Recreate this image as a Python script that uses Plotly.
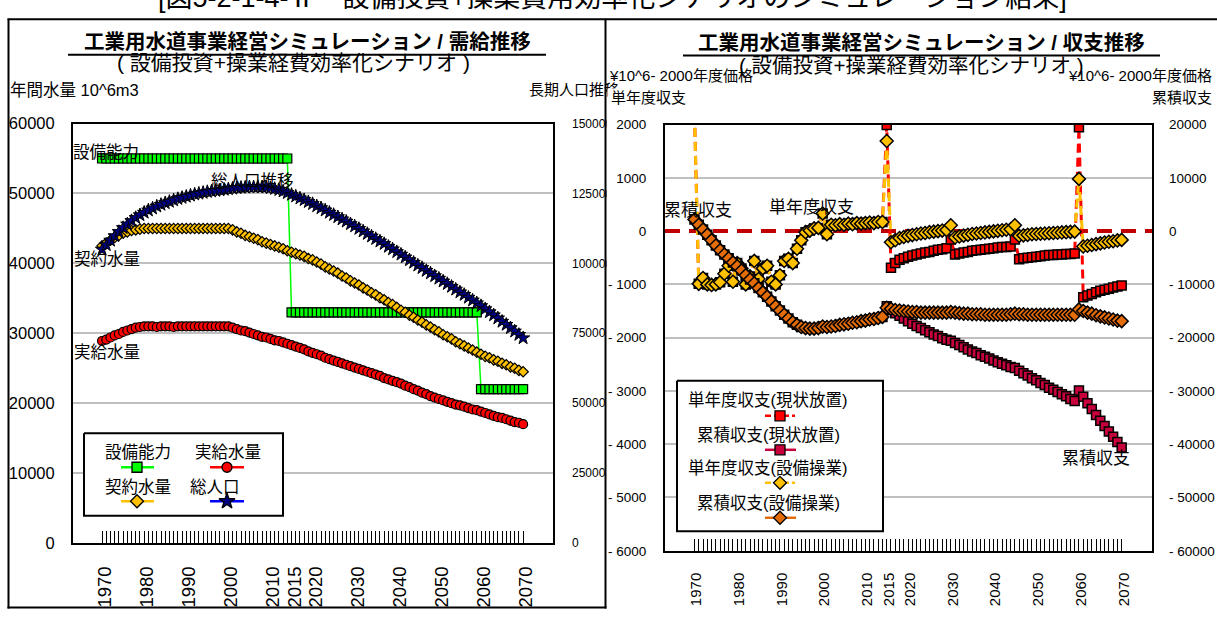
import plotly.graph_objects as go

W, H = 1217, 619
FONT = "Liberation Sans, Arial, Noto Sans CJK JP, sans-serif"


def px(x):
    return x / W


def py(y):
    return 1 - y / H


# ---------------------------------------------------------------- data
years = list(range(1970, 2071))
labelled_years = [1970, 1980, 1990, 2000, 2010, 2015, 2020, 2030, 2040, 2050, 2060, 2070]

# 需給推移 (10^6 m3 / 千人)
capacity = [55000] * 45 + [33000] * 45 + [22000] * 11
supply = [
    28900, 29100, 29400, 29700, 29900, 30200, 30400, 30600, 30800, 30900,
    31000, 31000, 31000, 30900, 31000, 31000, 31000, 30900, 31000, 31000,
    31000, 31000, 31000, 31000, 31000, 31000, 31000, 31000, 31000, 31000,
    31000, 30800, 30600, 30400, 30300, 30100, 29900, 29700, 29500, 29400,
    29200, 29000, 28900, 28700, 28500, 28300, 28100, 27900, 27700, 27400,
    27200, 27000, 26800, 26500, 26300, 26100, 25900, 25700, 25500, 25300,
    25100, 24900, 24700, 24500, 24300, 24100, 23900, 23600, 23400, 23200,
    23000, 22800, 22500, 22300, 22000, 21800, 21500, 21300, 21000, 20800,
    20600, 20400, 20200, 20000, 19800, 19700, 19500, 19300, 19100, 19000,
    18800, 18600, 18400, 18200, 18000, 17900, 17700, 17500, 17300, 17200,
    17000,
]
contract = [
    42500, 42900, 43300, 43700, 44000, 44300, 44500, 44700, 44800, 44900,
    45000, 45000, 45000, 45000, 45000, 45000, 45000, 45000, 45000, 45000,
    45000, 45000, 45000, 45000, 45000, 45000, 45000, 45000, 45000, 45000,
    45000, 44800, 44500, 44300, 44000, 43800, 43600, 43400, 43100, 42900,
    42700, 42500, 42300, 42100, 41800, 41600, 41400, 41200, 41000, 40700,
    40500, 40200, 39900, 39500, 39200, 38900, 38600, 38200, 37900, 37500,
    37200, 36900, 36500, 36200, 35800, 35500, 35100, 34800, 34400, 34100,
    33700, 33300, 33000, 32600, 32300, 31900, 31600, 31200, 30900, 30500,
    30200, 29800, 29500, 29200, 28800, 28500, 28200, 27900, 27600, 27300,
    27000, 26700, 26500, 26200, 26000, 25700, 25500, 25200, 25000, 24700,
    24500,
]
population = [
    105000, 106600, 108200, 109800, 111300, 112700, 114000, 115200, 116300, 117300,
    118200, 119000, 119700, 120400, 121000, 121600, 122100, 122600, 123100, 123500,
    123900, 124300, 124700, 125000, 125300, 125600, 125800, 126000, 126200, 126400,
    126600, 126800, 127000, 127100, 127200, 127300, 127300, 127400, 127300, 127200,
    127000, 126700, 126300, 125800, 125200, 124600, 124000, 123300, 122700, 122000,
    121300, 120500, 119800, 119000, 118200, 117400, 116600, 115800, 115000, 114100,
    113300, 112400, 111500, 110600, 109700, 108800, 107900, 107000, 106000, 105100,
    104100, 103200, 102200, 101200, 100300, 99300, 98400, 97400, 96500, 95500,
    94600, 93600, 92700, 91700, 90700, 89700, 88800, 87800, 86800, 85800,
    84800, 83700, 82600, 81500, 80400, 79200, 78100, 76900, 75700, 74500,
    73300,
]

# 収支推移 (百万円, 2000年度価格) -- 1970-2014 common to both scenarios
annual_common = [
    2200, -990, -880, -1000, -1010, -1000, -960, -800, -650, -950,
    -600, -700, -1000, -850, -560, -900, -700, -650, -950, -1000,
    -830, -560, -520, -600, -330, -170, -20, 10, 50, 60,
    330, -60, 120, 110, 130, 120, 140, 130, 150, 140,
    150, 160, 150, 170, 170,
]
annual_status_quo_tail = [
    1990, -690, -600, -540, -510, -480, -460, -440, -420, -400,
    -390, -370, -350, -340, -320, -160, -440, -420, -400, -390,
    -370, -360, -350, -340, -330, -320, -310, -300, -300, -290,
    -160, -530, -510, -500, -490, -480, -470, -460, -450, -450,
    -440, -440, -430, -430, -420, 1950, -1240, -1210, -1180, -1150,
    -1120, -1100, -1080, -1060, -1040, -1020,
]
annual_invest_tail = [
    1690, -210, -170, -130, -110, -90, -75, -60, -45, -35,
    -20, -10, 0, 10, 20, 110, -120, -100, -85, -70,
    -55, -45, -35, -25, -15, -5, 5, 15, 25, 35,
    110, -90, -80, -70, -60, -55, -50, -45, -40, -35,
    -30, -25, -20, -15, -10, 980, -290, -275, -260, -245,
    -230, -215, -200, -190, -175, -165,
]
cumul_common = [
    2200, 1200, 300, -700, -1700, -2700, -3600, -4400, -5100, -5900,
    -6600, -7400, -8300, -9100, -9800, -10700, -11500, -12300, -13200, -14100,
    -14900, -15700, -16400, -17100, -17600, -18000, -18200, -18300, -18300, -18200,
    -17900, -18000, -17900, -17800, -17600, -17500, -17400, -17200, -17100, -16900,
    -16800, -16600, -16500, -16300, -16100,
]
cumul_status_quo_tail = [
    -14100, -14800, -15400, -15900, -16400, -16900, -17400, -17800, -18200, -18600,
    -19000, -19400, -19700, -20100, -20400, -20600, -21000, -21400, -21800, -22200,
    -22600, -22900, -23300, -23600, -23900, -24300, -24600, -24900, -25200, -25500,
    -25700, -26200, -26700, -27100, -27600, -28000, -28500, -28900, -29400, -29800,
    -30200, -30600, -31000, -31500, -31900, -29900, -31100, -32300, -33400, -34500,
    -35600, -36600, -37600, -38600, -39600, -40600,
]
cumul_invest_tail = [
    -14400, -14600, -14800, -14900, -15000, -15100, -15200, -15200, -15300, -15300,
    -15300, -15300, -15300, -15300, -15300, -15200, -15300, -15400, -15500, -15500,
    -15600, -15600, -15600, -15700, -15700, -15700, -15700, -15700, -15700, -15600,
    -15500, -15600, -15600, -15700, -15700, -15700, -15700, -15700, -15700, -15700,
    -15700, -15700, -15700, -15700, -15700, -14700, -15000, -15300, -15500, -15800,
    -16000, -16200, -16400, -16600, -16800, -16900,
]

annual_status_quo = annual_common + annual_status_quo_tail
annual_invest = annual_common + annual_invest_tail
cumul_status_quo = cumul_common + cumul_status_quo_tail
cumul_invest = cumul_common + cumul_invest_tail

for series in (capacity, supply, contract, population, annual_status_quo,
               annual_invest, cumul_status_quo, cumul_invest):
    assert len(series) == len(years)

left_ticks = list(range(0, 60001, 10000))
left_ticks2 = list(range(0, 150001, 25000))
right_ticks = list(range(-6000, 2001, 1000))
right_ticks2 = list(range(-60000, 20001, 10000))


def tick_text(values):
    return [str(v) if v >= 0 else "- " + str(-v) for v in values]


# ---------------------------------------------------------------- colours
GREEN, RED, GOLD, BLUE, NAVY = "#00ff00", "#ff0000", "#ffc000", "#0000ff", "#000080"
CRIMSON, ORANGE = "#c8003c", "#e36c09"

fig = go.Figure()

# 需給推移 panel
fig.add_trace(go.Scatter(
    x=years, y=capacity, mode="lines+markers", xaxis="x", yaxis="y",
    line=dict(color=GREEN, width=1.5),
    marker=dict(symbol="square", size=9, color=GREEN, line=dict(color="black", width=1.2))))
fig.add_trace(go.Scatter(
    x=years, y=supply, mode="lines+markers", xaxis="x", yaxis="y",
    line=dict(color=RED, width=2),
    marker=dict(symbol="circle", size=9, color=RED, line=dict(color="black", width=1.2))))
fig.add_trace(go.Scatter(
    x=years, y=contract, mode="lines+markers", xaxis="x", yaxis="y",
    line=dict(color=GOLD, width=2),
    marker=dict(symbol="diamond", size=8, color=GOLD, line=dict(color="black", width=1.2))))
fig.add_trace(go.Scatter(
    x=years, y=population, mode="lines+markers", xaxis="x", yaxis="y2",
    line=dict(color=BLUE, width=1.5),
    marker=dict(symbol="star", size=10, color=NAVY, line=dict(color="black", width=1))))

# 収支推移 panel
fig.add_trace(go.Scatter(
    x=years, y=annual_status_quo, mode="lines+markers", xaxis="x2", yaxis="y3",
    line=dict(color=RED, width=3, dash="9px,5px"),
    marker=dict(symbol="square", size=9, color=RED, line=dict(color="black", width=1.5))))
fig.add_trace(go.Scatter(
    x=years, y=annual_invest, mode="lines+markers", xaxis="x2", yaxis="y3",
    line=dict(color=GOLD, width=3, dash="9px,5px"),
    marker=dict(symbol="diamond", size=10, color=GOLD, line=dict(color="black", width=1.5))))
fig.add_trace(go.Scatter(
    x=years, y=cumul_status_quo, mode="lines+markers", xaxis="x2", yaxis="y4",
    line=dict(color=CRIMSON, width=2),
    marker=dict(symbol="square", size=9, color=CRIMSON, line=dict(color="black", width=1.5))))
fig.add_trace(go.Scatter(
    x=years, y=cumul_invest, mode="lines+markers", xaxis="x2", yaxis="y4",
    line=dict(color=ORANGE, width=2),
    marker=dict(symbol="diamond", size=10, color=ORANGE, line=dict(color="black", width=1.5))))


# ---------------------------------------------------------------- legend boxes (pixel overlay)
def legend_box(x0, y0, x1, y1):
    fig.add_trace(go.Scatter(
        x=[x0, x1, x1, x0, x0], y=[y0, y0, y1, y1, y0], mode="lines",
        fill="toself", fillcolor="white", line=dict(color="black", width=2),
        xaxis="x5", yaxis="y6", hoverinfo="skip"))


def legend_key(x0, x1, xm, y, color, dash, symbol, mcolor, size):
    fig.add_trace(go.Scatter(
        x=[x0, x1], y=[y, y], mode="lines", line=dict(color=color, width=2.5, dash=dash),
        xaxis="x5", yaxis="y6", hoverinfo="skip"))
    fig.add_trace(go.Scatter(
        x=[xm], y=[y], mode="markers",
        marker=dict(symbol=symbol, size=size, color=mcolor, line=dict(color="black", width=1.3)),
        xaxis="x5", yaxis="y6", hoverinfo="skip"))


legend_box(84, 437, 283, 522)
legend_key(121, 154, 137, 472, GREEN, "solid", "square", GREEN, 10)
legend_key(210, 244, 227, 472, RED, "solid", "circle", RED, 10)
legend_key(121, 154, 137, 507, GOLD, "solid", "diamond", GOLD, 10)
legend_key(210, 244, 227, 507, BLUE, "solid", "star", NAVY, 12)

legend_box(677, 383, 883, 538)
legend_key(765, 795, 780, 419, RED, "6px,3px", "square", RED, 10)
legend_key(765, 796, 780, 454, CRIMSON, "solid", "square", CRIMSON, 10)
legend_key(765, 795, 780, 488, GOLD, "6px,3px", "diamond", GOLD, 10)
legend_key(765, 796, 780, 524, ORANGE, "solid", "diamond", ORANGE, 10)

# ---------------------------------------------------------------- annotations
ann = []


def text(t, x, y, size, xanchor="center", yanchor="middle", xref="x5", yref="y6", **kw):
    d = dict(text=t, x=x, y=y, xref=xref, yref=yref, xanchor=xanchor, yanchor=yanchor,
             showarrow=False, font=dict(family=FONT, size=size, color="black"))
    d.update(kw)
    ann.append(d)


# figure caption, running off the top edge
text("[図5-2-1-4-Ⅱ　設備投資+操業費用効率化シナリオのシミュレーション結果]",
     612, 6, 27, yanchor="bottom")

# titles
text("<b>工業用水道事業経営シミュレーション / 需給推移</b>", 307, 33.5, 20.5)
text("( 設備投資+操業経費効率化シナリオ )", 293, 55, 21)
text("<b>工業用水道事業経営シミュレーション / 収支推移</b>", 921, 35, 20.5)
text("( 設備投資+操業経費効率化シナリオ )", 911, 58, 20.5)

# axis captions
text("年間水量 10^6m3", 8, 83, 16.5, xanchor="left")
text("長期人口推移", 527, 83, 15, xanchor="left")
text("¥10^6- 2000年度価格", 607, 69, 15, xanchor="left")
text("単年度収支", 606.8, 91, 15, xanchor="left", width=78, align="right",
     bgcolor="white", borderpad=0)
text("¥10^6- 2000年度価格", 1214, 69, 15, xanchor="right")
text("累積収支", 1214, 91, 15, xanchor="right")

# series labels attached to points
text("設備能力", 1970, 55000, 16.5, xref="x", yref="y", xshift=4, yshift=7)
text("総人口推移", 2008, population[years.index(2008)], 16.5, xref="x", yref="y2",
     xshift=-10, yshift=6)
text("契約水量", 1970, contract[0], 16.5, xref="x", yref="y", xshift=5, yshift=-13)
text("実給水量", 1970, supply[0], 16.5, xref="x", yref="y", xshift=5, yshift=-11)
text("累積収支", 1970, cumul_invest[0], 17, xref="x2", yref="y4", xshift=4, yshift=9)
text("単年度収支", 2000, annual_invest[years.index(2000)], 17, xref="x2", yref="y3",
     xshift=-11, yshift=6)
text("累積収支", 2070, cumul_status_quo[-1], 17, xref="x2", yref="y4", xshift=-26, yshift=-11)

# legend texts
text("設備能力", 138, 456, 16.5)
text("実給水量", 228, 456, 16.5)
text("契約水量", 138, 492, 16.5)
text("総人口", 215, 492, 16.5)
text("単年度収支(現状放置)", 768, 403, 16.5)
text("累積収支(現状放置)", 768, 439, 16.5)
text("単年度収支(設備操業)", 768, 473, 16.5)
text("累積収支(設備操業)", 768, 509, 16.5)

# ---------------------------------------------------------------- shapes
shapes = []


def hline(x0, x1, y, width=2, color="black"):
    shapes.append(dict(type="line", xref="paper", yref="paper", x0=px(x0), x1=px(x1),
                       y0=py(y), y1=py(y), line=dict(color=color, width=width), layer="above"))


def vline(x, y0, y1, width=2, color="black"):
    shapes.append(dict(type="line", xref="paper", yref="paper", x0=px(x), x1=px(x),
                       y0=py(y0), y1=py(y1), line=dict(color=color, width=width), layer="above"))


# overflow of the population axis labels is cut at the panel edge
shapes.append(dict(type="rect", xref="paper", yref="paper", x0=px(606.6), x1=px(614.5),
                   y0=py(108), y1=py(274), fillcolor="white", line=dict(width=0), layer="above"))

hline(7.5, W, 10.5)
vline(8.5, 10, 617.5)
hline(7.5, 606.5, 616.5)
vline(605.5, 10, 617.5)
hline(68, 546, 47)
hline(683, 1160, 48)

# horizontal axis of the balance panel (crosses at 0), drawn over the grid
shapes.append(dict(type="line", xref="x2", yref="y3", x0=1963.1, x1=2077.1, y0=0, y1=0,
                   line=dict(color="white", width=3), layer="between"))
shapes.append(dict(type="line", xref="x2", yref="y3", x0=1963.1, x1=2077.1, y0=0, y1=0,
                   line=dict(color="#c00000", width=4, dash="15px,9px"), layer="between"))

# ---------------------------------------------------------------- layout
X_RANGE = [1963.1, 2077.1]
year_ticktext = [str(y) if y in labelled_years else "" for y in years]

common_x = dict(range=X_RANGE, tickmode="array", tickvals=years, ticktext=year_ticktext,
                ticks="inside", ticklen=12, tickwidth=1, tickcolor="black", tickangle=-90,
                showline=True, linewidth=2, linecolor="black", mirror=True,
                showgrid=False, zeroline=False, fixedrange=True)
common_y = dict(tickmode="array", ticks="", showline=True, linewidth=2, linecolor="black",
                mirror=True, showgrid=True, gridcolor="#c0c0c0", gridwidth=1.5,
                zeroline=False, fixedrange=True)

fig.update_layout(
    width=W, height=H, autosize=False,
    margin=dict(l=0, r=0, t=0, b=0, pad=0),
    paper_bgcolor="white", plot_bgcolor="rgba(0,0,0,0)",
    showlegend=False,
    font=dict(family=FONT, color="black"),
    xaxis=dict(common_x, domain=[px(73), px(553)], anchor="y",
               tickfont=dict(size=18.5), ticklabelstandoff=14, ticklabelshift=3),
    yaxis=dict(common_y, domain=[py(550), py(118)], range=[0, 60000], anchor="x",
               tickvals=left_ticks, ticktext=tick_text(left_ticks),
               tickfont=dict(size=16.5), ticklabelstandoff=13),
    yaxis2=dict(overlaying="y", side="right", anchor="x", range=[0, 150000],
                tickmode="array", tickvals=left_ticks2, ticktext=tick_text(left_ticks2),
                ticks="", showline=False, showgrid=False, zeroline=False,
                tickfont=dict(size=12), ticklabelstandoff=18, fixedrange=True),
    xaxis2=dict(common_x, domain=[px(665), px(1152)], anchor="y3",
                tickfont=dict(size=15), ticklabelstandoff=14, ticklabelshift=2),
    yaxis3=dict(common_y, domain=[py(558), py(119)], range=[-6000, 2000], anchor="x2",
                tickvals=right_ticks, ticktext=tick_text(right_ticks),
                tickfont=dict(size=13.5), ticklabelstandoff=14),
    yaxis4=dict(overlaying="y3", side="right", anchor="x2", range=[-60000, 20000],
                tickmode="array", tickvals=right_ticks2, ticktext=tick_text(right_ticks2),
                ticks="", showline=False, showgrid=False, zeroline=False,
                tickfont=dict(size=13.5), ticklabelstandoff=16, fixedrange=True),
    xaxis5=dict(domain=[0, 1], range=[0, W], visible=False, anchor="y6", fixedrange=True),
    yaxis6=dict(domain=[0, 1], range=[H, 0], visible=False, anchor="x5", fixedrange=True),
    annotations=ann,
    shapes=shapes,
)

fig.write_html("out.html", config={"displayModeBar": False})
